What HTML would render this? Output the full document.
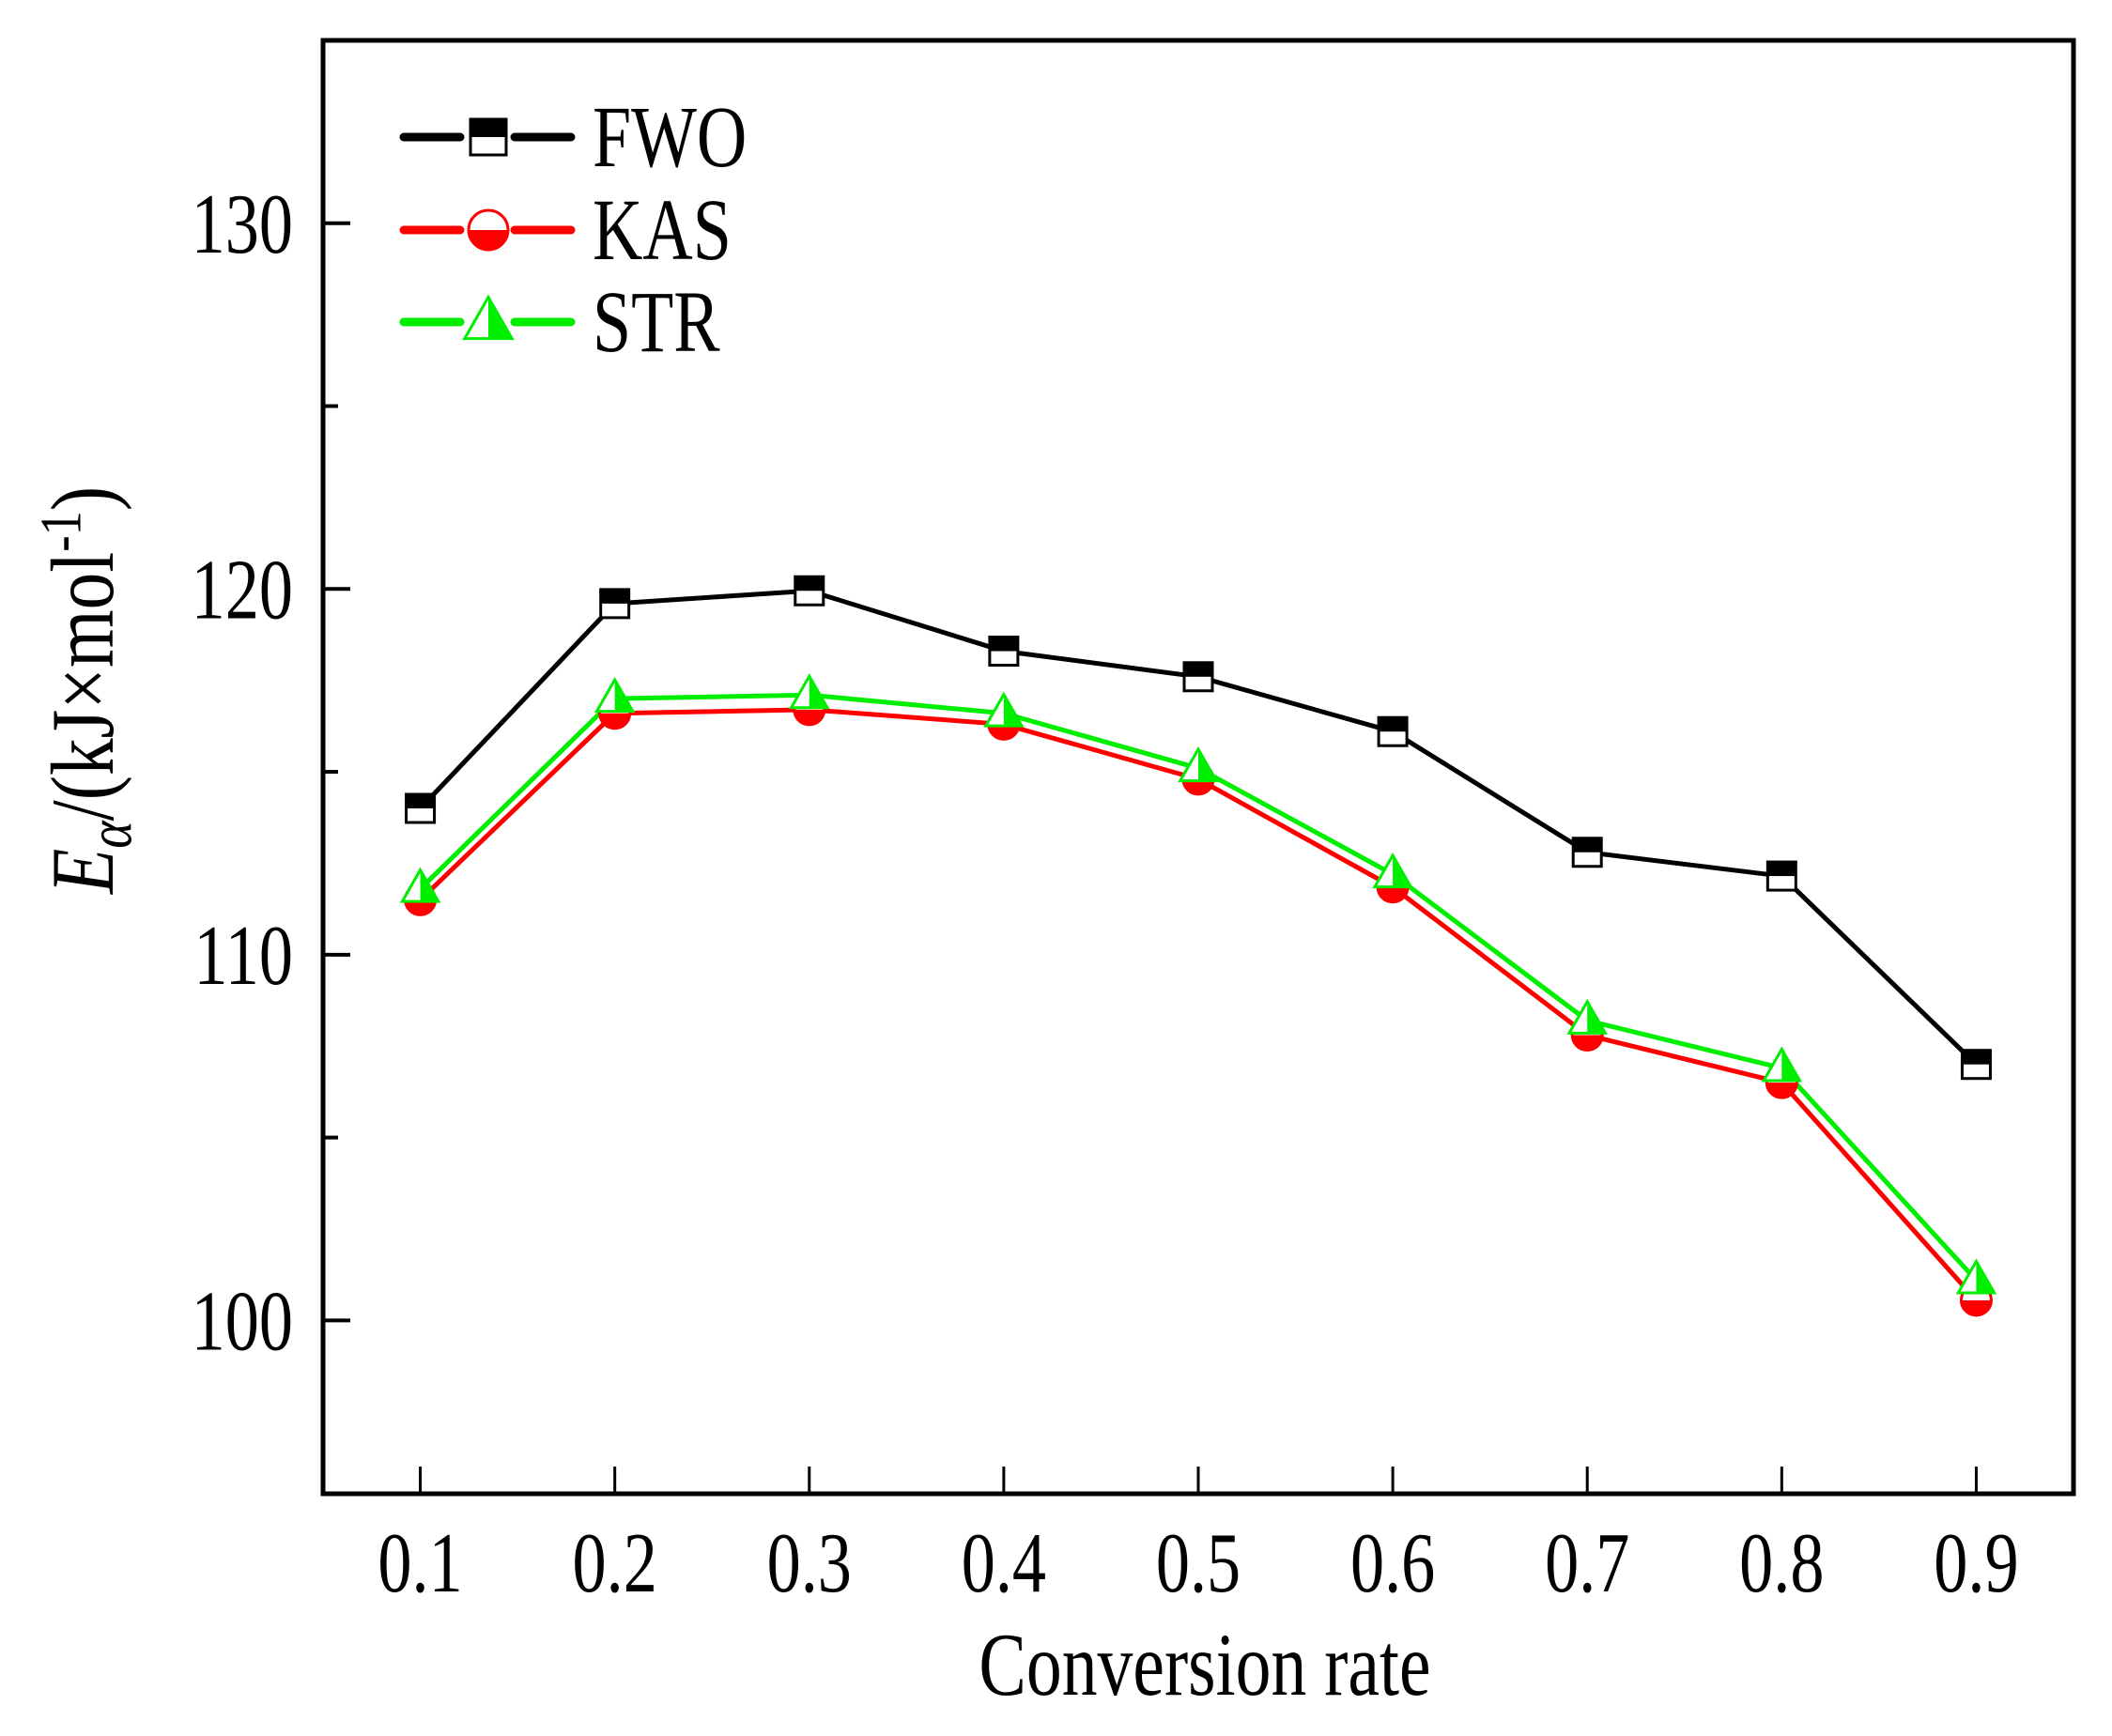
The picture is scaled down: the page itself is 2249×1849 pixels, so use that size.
<!DOCTYPE html>
<html><head><meta charset="utf-8"><style>
html,body{margin:0;padding:0;background:#fff;}
svg{display:block;}
text{font-family:"Liberation Serif",serif;fill:#000;}
</style></head><body>
<svg id="chart" width="2249" height="1849" viewBox="0 0 2249 1849" xmlns="http://www.w3.org/2000/svg">
<g id="plot"></g>
</svg>
<script>
const categories = [0.1,0.2,0.3,0.4,0.5,0.6,0.7,0.8,0.9];
const fwoValues = [114.0,119.6,119.95,118.3,117.6,116.1,112.8,112.15,107.0];
const kasValues = [111.5,116.6,116.7,116.3,114.8,111.85,107.8,106.5,100.55];
const strValues = [111.8,117.0,117.1,116.6,115.1,112.2,108.2,106.9,101.1];
const yTickLabels = [100,110,120,130];
const yMinorTicks = [95,105,115,125,135];
const xTickLabels = ["0.1","0.2","0.3","0.4","0.5","0.6","0.7","0.8","0.9"];

const L=344,R=2208,T=43,B=1591;
const X0=0.05,X1=0.95,Y0=95.26,Y1=135;
const xs=v=>L+(v-X0)/(X1-X0)*(R-L);
const ys=v=>B-(v-Y0)/(Y1-Y0)*(B-T);
const NS="http://www.w3.org/2000/svg";
const g=document.getElementById('plot');
function mk(tag,attrs,parent){const e=document.createElementNS(NS,tag);for(const k in attrs)e.setAttribute(k,attrs[k]);(parent||g).appendChild(e);return e;}
function txt(x,y,anchor,size,str,parent){
  // narrow (condensed) serif look
  const t=mk('text',{x:0,y:0,'text-anchor':anchor,'font-size':size,transform:`translate(${x},${y}) scale(0.86,1.08)`},parent);
  t.textContent=str;return t;
}

let fr=mk('rect',{x:L,y:T,width:R-L,height:B-T,fill:'none',stroke:'#000','stroke-width':5});



yTickLabels.forEach(v=>{
  const y=ys(v);
  let t=mk('line',{x1:L,x2:L+29,y1:y,y2:y,stroke:'#000','stroke-width':4});
  
  
  let tx=txt(312,y+31,'end',84,String(v));
  
  
});
yMinorTicks.forEach(v=>{
  const y=ys(v); if(y<T||y>B) return;
  let t=mk('line',{x1:L,x2:L+16,y1:y,y2:y,stroke:'#000','stroke-width':4});
  
  
});
categories.forEach((c,i)=>{
  const x=xs(c);
  let t=mk('line',{x1:x,x2:x,y1:B,y2:B-29,stroke:'#000','stroke-width':3});
  
  
  let tx=txt(x,1695,'middle',84,xTickLabels[i]);
  
  
});
let xt=txt(1283,1805,'middle',88,'Conversion rate');


let yt=mk('text',{x:0,y:0,'text-anchor':'middle','font-size':88,transform:'translate(120,735) rotate(-90) scale(0.9,1.08)'});
yt.innerHTML='<tspan font-style="italic">E</tspan><tspan font-style="italic" font-size="62" dy="18">α</tspan><tspan dy="-18">/(kJ×mol</tspan><tspan font-size="58" dy="-32">-1</tspan><tspan dy="32">)</tspan>';



function marker(type,cx,cy,col,parent,s){
  const grp=mk('g',{},parent);
  if(type==='sq'){
    mk('rect',{x:cx-s,y:cy-s,width:2*s,height:2*s,fill:'#fff',stroke:col,'stroke-width':3},grp);
    mk('rect',{x:cx-s,y:cy-s,width:2*s,height:s,fill:col},grp);
  }else if(type==='ci'){
    mk('circle',{cx:cx,cy:cy,r:s,fill:'#fff',stroke:col,'stroke-width':3},grp);
    mk('path',{d:`M${cx-s},${cy} A${s},${s} 0 0 0 ${cx+s},${cy} Z`,fill:col},grp);
  }else{
    const h=s*2.1,w=s*1.2;
    mk('path',{d:`M${cx},${cy-h*0.6} L${cx+w},${cy+h*0.4} L${cx-w},${cy+h*0.4} Z`,fill:'#fff',stroke:col,'stroke-width':3},grp);
    mk('path',{d:`M${cx},${cy-h*0.6} L${cx+w},${cy+h*0.4} L${cx},${cy+h*0.4} Z`,fill:col},grp);
  }
  return grp;
}
const series=[
  {name:'fwo',vals:fwoValues,col:'#000',type:'sq'},
  {name:'kas',vals:kasValues,col:'#ff0000',type:'ci'},
  {name:'str',vals:strValues,col:'#00ee00',type:'tr'}
];
series.forEach(s=>{
  const pts=categories.map((c,i)=>xs(c)+','+ys(s.vals[i])).join(' ');
  let pl=mk('polyline',{points:pts,fill:'none',stroke:s.col,'stroke-width':5});
  
  
});
series.forEach(s=>{
  categories.forEach((c,i)=>{
    let m=marker(s.type,xs(c),ys(s.vals[i]),s.col,g,s.type==='sq'?15:16);
    
    
  });
});
const legLabels=['FWO','KAS','STR'];
const legY=[146,245,343];
series.forEach((s,i)=>{
  const lg=mk('g',{});
  
  
  mk('line',{x1:430,x2:490,y1:legY[i],y2:legY[i],stroke:s.col,'stroke-width':9,'stroke-linecap':'round'},lg);
  mk('line',{x1:548,x2:608,y1:legY[i],y2:legY[i],stroke:s.col,'stroke-width':9,'stroke-linecap':'round'},lg);
  marker(s.type,520,legY[i],s.col,lg,s.type==='sq'?19:21);
  txt(631,legY[i]+31,'start',86,legLabels[i],lg);
});
</script>
</body></html>
